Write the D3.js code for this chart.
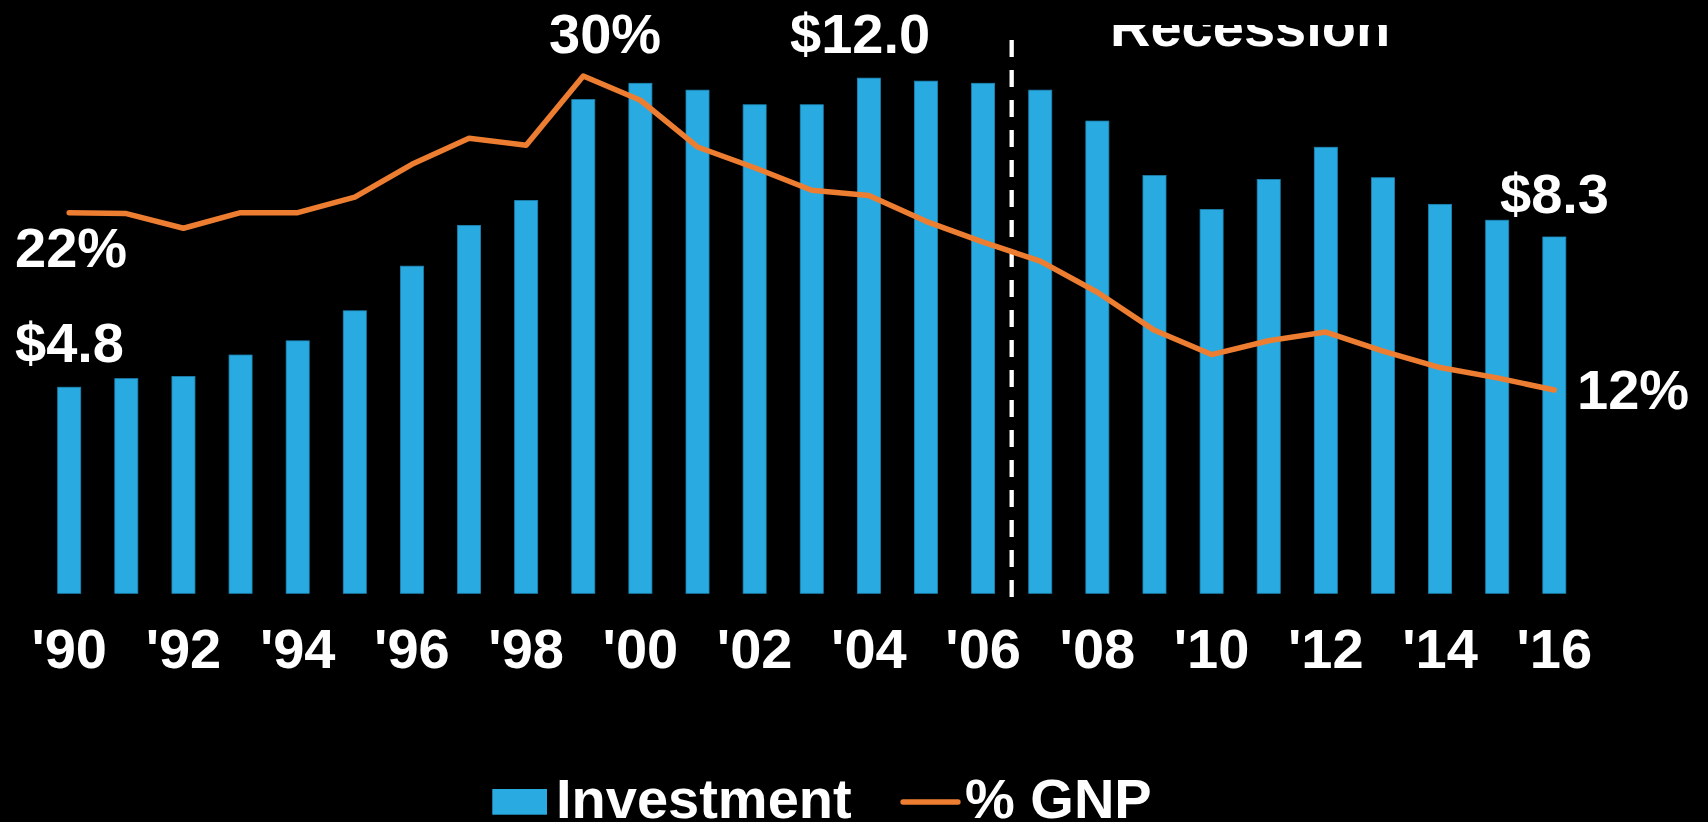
<!DOCTYPE html>
<html>
<head>
<meta charset="utf-8">
<script src="https://cdn.jsdelivr.net/npm/d3@7"></script>
<style>
  html, body { margin: 0; padding: 0; background: #000; }
  svg { display: block; }
  text { font-family: "Liberation Sans", Arial, Helvetica, sans-serif; font-weight: bold; fill: #fff; }
</style>
</head>
<body>
<script>
// ---- data ----
const years = [1990,1991,1992,1993,1994,1995,1996,1997,1998,1999,2000,2001,2002,2003,2004,2005,2006,2007,2008,2009,2010,2011,2012,2013,2014,2015,2016];
const investment = [4.8,5.0,5.05,5.55,5.88,6.58,7.62,8.57,9.15,11.5,11.88,11.72,11.38,11.38,12.0,11.93,11.88,11.72,11.0,9.73,8.94,9.64,10.39,9.68,9.06,8.69,8.3];
const pctGNP = [22.0,21.95,21.1,22.0,22.0,22.9,24.8,26.3,25.9,29.9,28.5,25.8,24.6,23.3,23.0,21.5,20.3,19.2,17.4,15.2,13.8,14.6,15.1,14.0,13.05,12.45,11.75];
const tickYears = [1990,1992,1994,1996,1998,2000,2002,2004,2006,2008,2010,2012,2014,2016];
const seriesNames = ["Investment", "% GNP"];
const recessionLabel = "Recession";
const recessionAfter = 2006;

const W = 1708, H = 822;
const BLUE = "#29ABE2", ORANGE = "#ED7D31";
const FS = 56;

const svg = d3.select("body").append("svg").attr("width", W).attr("height", H);
svg.append("rect").attr("width", W).attr("height", H).attr("fill", "#000");

const baseY = 593.3;
const step = 57.12;
const x = d3.scaleBand().domain(years)
  .range([69.2 - step/2, 69.2 - step/2 + step*years.length])
  .paddingInner(0.597).paddingOuter(0.597/2);
const cx = d => x(d) + x.bandwidth()/2;
const yBar = d3.scaleLinear().domain([0, 13]).range([baseY, baseY - 13*42.93]);
const yPct = d3.scaleLinear().domain([0, 32.25]).range([baseY, baseY - 32.25*17.3]);

// bars
svg.append("g").selectAll("rect").data(years).join("rect")
  .attr("x", d => x(d))
  .attr("width", x.bandwidth())
  .attr("y", (d,i) => yBar(investment[i]))
  .attr("height", (d,i) => yBar(0) - yBar(investment[i]))
  .attr("fill", BLUE)
  .attr("stroke", "#1d86b4").attr("stroke-width", 0.8);

// recession divider
const divX = (cx(recessionAfter) + cx(recessionAfter + 1)) / 2;
svg.append("line")
  .attr("x1", divX).attr("x2", divX)
  .attr("y1", 597).attr("y2", 28)
  .attr("stroke", "#fff").attr("stroke-width", 4.3)
  .attr("stroke-dasharray", "17,13");

// recession label (clipped at top like reference)
svg.append("clipPath").attr("id", "recClip")
  .append("rect").attr("x", 0).attr("y", 25).attr("width", W).attr("height", H);
svg.append("text")
  .attr("clip-path", "url(#recClip)")
  .attr("x", 1110).attr("y", 46)
  .attr("font-size", FS)
  .text(recessionLabel);

// line
const line = d3.line().x((d,i) => cx(years[i])).y(d => yPct(d));
svg.append("path").datum(pctGNP)
  .attr("d", line)
  .attr("fill", "none").attr("stroke", ORANGE)
  .attr("stroke-width", 5.5).attr("stroke-linecap", "round").attr("stroke-linejoin", "round");

// x axis
const axis = d3.axisBottom(x).tickValues(tickYears)
  .tickFormat(d => "'" + String(d).slice(2)).tickSize(0);
const gAxis = svg.append("g").attr("transform", `translate(0,${baseY})`).call(axis);
gAxis.select(".domain").remove();
gAxis.selectAll("text")
  .attr("y", 75).attr("dy", 0)
  .attr("font-size", FS)
  .attr("fill", "#fff")
  .style("font-family", '"Liberation Sans", Arial, Helvetica, sans-serif')
  .style("font-weight", "bold");

// data labels
const fmt$ = v => "$" + v.toFixed(1);
const fmtP = v => Math.round(v) + "%";
const iMax = investment.indexOf(d3.max(investment));
const pMax = pctGNP.indexOf(d3.max(pctGNP));
const last = years.length - 1;
const labels = [
  {t: fmtP(pctGNP[0]), x: 15, y: 267},
  {t: fmt$(investment[0]), x: 15, y: 362},
  {t: fmtP(pctGNP[pMax]), x: 549, y: 53},
  {t: fmt$(investment[iMax]), x: 790, y: 53},
  {t: fmt$(investment[last]), x: 1500, y: 212.7},
  {t: fmtP(pctGNP[last]), x: 1577, y: 409}
];
svg.append("g").selectAll("text").data(labels).join("text")
  .attr("x", d => d.x).attr("y", d => d.y)
  .attr("font-size", FS)
  .text(d => d.t);

// legend
const lg = svg.append("g");
lg.append("rect").attr("x", 492.3).attr("y", 789).attr("width", 54.7).attr("height", 25.7).attr("fill", BLUE);
lg.append("text").attr("x", 556).attr("y", 817.5).attr("font-size", FS).text(seriesNames[0]);
lg.append("line").attr("x1", 903).attr("x2", 958).attr("y1", 802).attr("y2", 802)
  .attr("stroke", ORANGE).attr("stroke-width", 5.3).attr("stroke-linecap", "round");
lg.append("text").attr("x", 965).attr("y", 817.5).attr("font-size", FS).text(seriesNames[1]);
</script>
</body>
</html>
